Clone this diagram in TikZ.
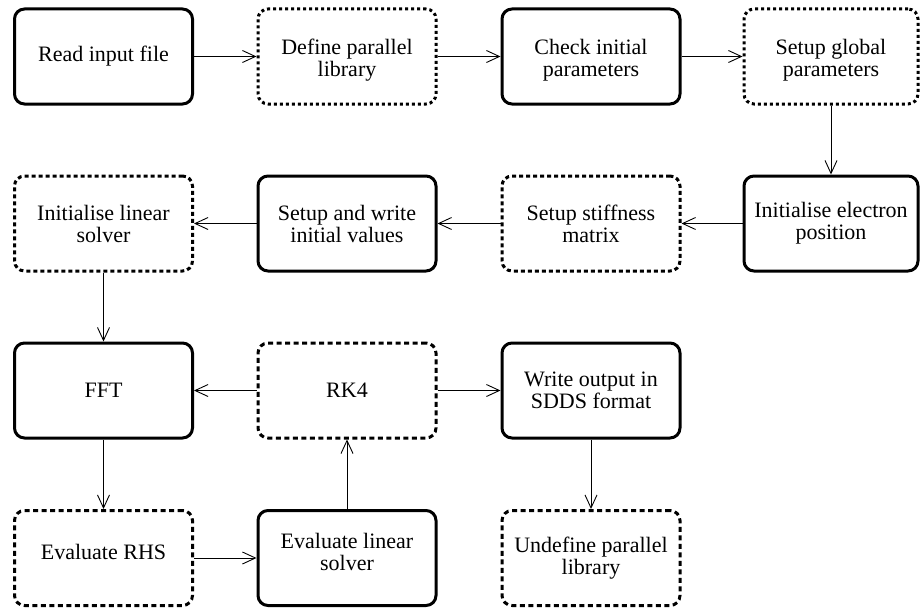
\documentclass[tikz,border=0pt]{standalone}
\usepackage{fontspec}
\setmainfont{Liberation Serif}
\newfontfamily\boxfont{Liberation Serif}
\usetikzlibrary{arrows.meta}
\newcommand{\shifted}[2]{\raisebox{#1}[\height][\depth]{\begin{tabular}{@{}c@{}}#2\end{tabular}}}
\begin{document}
\begin{tikzpicture}[x=1pt,y=-1pt,
  box/.style={draw, line width=3pt, rounded corners=10pt, minimum width=178pt,
    minimum height=95pt, align=center, inner sep=0pt,
    font=\boxfont\fontsize{22}{22}\selectfont},
  solidbox/.style={box},
  dashbox/.style={box, dash pattern=on 4pt off 3pt},
  dotrow/.style={dash pattern=on 3pt off 3pt},
  longrow/.style={dash pattern=on 5pt off 3.5pt},
  narrow/.style={minimum width=174pt},
  arr/.style={line width=0.9pt, -{Straight Barb[length=13pt,width=12pt,line width=0.9pt]}}]
\useasboundingbox (0,0) rectangle (920,610);
% row 1
\node[solidbox] (read)   at (103.5,56.5) {Read input file};
\node[dashbox, dotrow] (defpar) at (347,56.5) {\shifted{-5pt}{Define parallel\\library}};
\node[solidbox] (check)  at (591,56.5)   {\shifted{-5pt}{Check initial\\parameters}};
\node[dashbox, dotrow, narrow] (glob) at (831,56.5) {\shifted{-5pt}{Setup global\\parameters}};
% row 2
\node[dashbox]  (linsol) at (103.5,223.5) {Initialise linear\\solver};
\node[solidbox] (initv)  at (347,223.5)   {Setup and write\\initial values};
\node[dashbox]  (stiff)  at (591,223.5)   {Setup stiffness\\matrix};
\node[solidbox, narrow] (elec) at (831,223.5) {Initialise electron\\position};
% row 3
\node[solidbox] (fft)    at (103.5,390.5) {FFT};
\node[dashbox, longrow] (rk) at (347,390.5) {RK4};
\node[solidbox] (wout)   at (591,390.5)   {\shifted{-3pt}{Write output in\\SDDS format}};
% row 4
\node[dashbox, longrow] (rhs) at (103.5,558) {\shifted{3pt}{Evaluate RHS}};
\node[solidbox] (evlin)  at (347,558)   {\shifted{3pt}{Evaluate linear\\solver}};
\node[dashbox, longrow] (undef) at (591,558) {Undefine parallel\\library};
% connectors
\draw[arr] (read) -- (defpar);
\draw[arr] (defpar) -- (check);
\draw[arr] (check) -- (glob);
\draw[arr] (glob) -- (elec);
\draw[arr] (elec) -- (stiff);
\draw[arr] (stiff) -- (initv);
\draw[arr] (initv) -- (linsol);
\draw[arr] (linsol) -- (fft);
\draw[arr] (rk) -- (fft);
\draw[arr] (rk) -- (wout);
\draw[arr] (fft) -- (rhs);
\draw[arr] (wout) -- (undef);
\draw[arr] (rhs) -- (evlin);
\draw[arr] (evlin) -- (rk);
\end{tikzpicture}
\end{document}
